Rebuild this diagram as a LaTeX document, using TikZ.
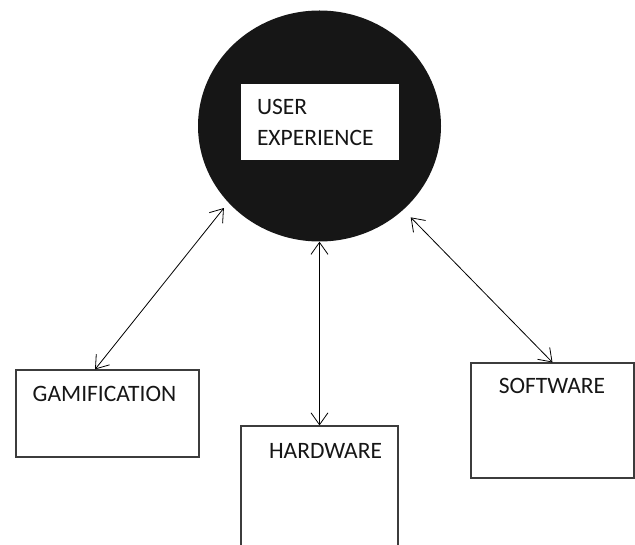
\documentclass[tikz,border=0pt]{standalone}
\usepackage{fontspec}
\setmainfont{Carlito}
\usetikzlibrary{arrows.meta,positioning,shapes.geometric}
\definecolor{Ink}{HTML}{161616}
\definecolor{Edge}{HTML}{3C3C3C}

\begin{document}
\begin{tikzpicture}[x=1pt,y=-1pt,
    bx/.style={draw=Edge,line width=1.1pt,inner sep=0pt},
    lbl/.style={font=\fontsize{23.5}{31}\selectfont,text=Ink,inner sep=0pt},
    lnk/.style={{Straight Barb[length=12pt,width=17pt]}-{Straight Barb[length=12pt,width=17pt]},line width=0.8pt,draw=black}]
    \clip (0,0) rectangle (635,545);
    % central disc with its caption
    \node[ellipse,fill=Ink,minimum width=243pt,minimum height=231pt,inner sep=0pt] (ux) at (319.5,126) {};
    \node[lbl,fill=white,minimum width=158pt,minimum height=76pt,text width=126pt,inner xsep=16pt,align=left] (uxtxt) at (320,122) {USER\\EXPERIENCE};
    % the three boxes
    \node[bx,minimum width=183pt,minimum height=87pt] (gam) at (107.5,413.5) {};
    \node[lbl,anchor=base] (gamtxt) at (104.5,402) {GAMIFICATION};
    \node[bx,minimum width=157pt,minimum height=134pt] (hw) at (319.5,493) {};
    \node[lbl,anchor=base] (hwtxt) at (325.5,458) {HARDWARE};
    \node[bx,minimum width=163pt,minimum height=115pt] (sw) at (552.5,420.5) {};
    \node[lbl,anchor=base] (swtxt) at (552,394) {SOFTWARE};
    % links
    \draw[lnk,shorten >=7pt] ([xshift=-12.5pt]gam.north) -- (ux.220);
    \draw[lnk] (hw.north) -- (ux.south);
    \draw[lnk,shorten >=10.5pt] (sw.north) -- (ux.315);
\end{tikzpicture}
\end{document}
